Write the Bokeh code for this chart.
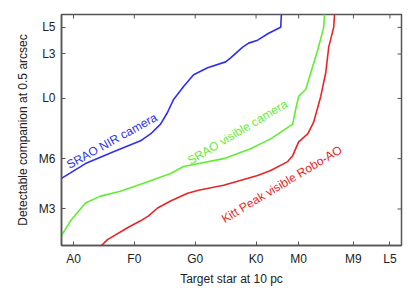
import math
from bokeh.plotting import figure
from bokeh.models import FixedTicker, Range1d
from bokeh.core.properties import value
from bokeh.embed import file_html
from bokeh.resources import INLINE

# x: spectral subclass index of target star (A0=0 ... L5=52)
x_ticks = [0, 10, 20, 30, 37, 46, 52]
x_labels = ["A0", "F0", "G0", "K0", "M0", "M9", "L5"]
# y: detectable companion type (arbitrary contrast scale)
y_ticks = [3.7, 8.8, 14.9, 19.4, 22.1]
y_labels = ["M3", "M6", "L0", "L3", "L5"]

nir_x = [-1.97, 1.97, 6.58, 11.02, 12.66, 14.31, 15.46, 16.45, 18.09, 19.74, 22.04, 25.0, 25.82, 27.8, 28.78, 30.26, 32.07, 34.05, 34.2]
nir_y = [6.8, 8.3, 9.5, 10.6, 11.3, 12.3, 13.5, 14.8, 16.1, 17.3, 18.0, 18.6, 19.0, 20.1, 20.5, 20.8, 21.5, 22.1, 23.8]

vis_x = [-1.97, -0.49, 1.97, 4.44, 7.73, 11.51, 15.95, 18.09, 24.67, 29.11, 32.4, 36.02, 36.51, 37.0, 38.16, 40.13, 41.12, 41.28]
vis_y = [1.0, 2.5, 4.3, 5.0, 5.5, 6.3, 7.3, 8.0, 8.8, 9.8, 10.8, 12.3, 13.8, 15.1, 15.8, 19.8, 22.1, 23.8]

kp_x = [4.28, 5.59, 8.88, 11.02, 12.34, 13.82, 15.95, 18.75, 20.56, 24.67, 30.26, 32.4, 35.2, 36.02, 37.0, 38.49, 39.47, 40.63, 41.45, 41.94, 42.76, 42.93]
kp_y = [-0.2, 0.6, 1.8, 2.5, 3.0, 3.8, 4.5, 5.3, 5.6, 6.1, 7.1, 7.6, 8.5, 9.1, 10.5, 11.3, 12.5, 15.1, 17.5, 20.1, 22.1, 23.8]

labels = ["SRAO NIR camera", "SRAO visible camera", "Kitt Peak visible Robo-AO"]
label_x = [-0.99, 18.91, 24.5]
label_y = [8.1, 8.5, 2.6]
label_angle = [29, 31, 31]

colors = ["#2f2ff2", "#5fee30", "#e82525"]
FONT = "Liberation Sans"
X_MIN, X_MAX, Y_MIN, Y_MAX = -1.97, 53.9, 0, 23.4

p = figure(width=411, height=288, output_backend="svg", toolbar_location=None,
           x_range=Range1d(X_MIN, X_MAX), y_range=Range1d(Y_MIN, Y_MAX),
           min_border_left=61, min_border_right=10, min_border_top=14, min_border_bottom=40)
p.xgrid.visible = False
p.ygrid.visible = False
p.outline_line_color = "#555555"
p.outline_line_width = 1.5
p.background_fill_color = "white"
p.border_fill_color = "white"

p.line(nir_x, nir_y, color=colors[0], line_width=1.6)
p.line(vis_x, vis_y, color=colors[1], line_width=1.6)
p.line(kp_x, kp_y, color=colors[2], line_width=1.6)

for t, lx, ly, a, c in zip(labels, label_x, label_y, label_angle, colors):
    p.text(x=[lx], y=[ly], text=[t], angle=a, angle_units="deg",
           text_color=c, text_font=value(FONT), text_font_size="12px",
           text_align="left", text_baseline="alphabetic")

# mirrored inward ticks on top and right edges (clipped to the frame)
p.scatter(x=x_ticks, y=[Y_MAX] * len(x_ticks), marker="dash", angle=math.pi / 2,
          size=8, line_color="#555555", line_width=1)
p.scatter(x=[X_MAX] * len(y_ticks), y=y_ticks, marker="dash",
          size=8, line_color="#555555", line_width=1)

def style(ax):
    ax.minor_tick_line_color = None
    ax.major_tick_in = 4
    ax.major_tick_out = 0
    ax.major_tick_line_color = "#555555"
    ax.axis_line_color = "#555555"
    ax.axis_line_width = 1.5
    ax.major_label_text_font = FONT
    ax.major_label_text_font_size = "12px"
    ax.major_label_text_color = "#222222"
    ax.axis_label_text_font = FONT
    ax.axis_label_text_font_size = "12px"
    ax.axis_label_text_font_style = "normal"
    ax.axis_label_text_color = "#222222"

xa = p.xaxis[0]
xa.ticker = FixedTicker(ticks=x_ticks)
xa.major_label_overrides = {t: l for t, l in zip(x_ticks, x_labels)}
xa.axis_label = "Target star at 10 pc"
style(xa)
xa.major_label_standoff = 6
xa.axis_label_standoff = 3

ya = p.yaxis[0]
ya.ticker = FixedTicker(ticks=y_ticks)
ya.major_label_overrides = {t: l for t, l in zip(y_ticks, y_labels)}
ya.axis_label = "Detectable companion at 0.5 arcsec"
style(ya)
ya.major_label_standoff = 6
ya.axis_label_standoff = 6

open("out.html", "w").write(file_html(p, INLINE))
